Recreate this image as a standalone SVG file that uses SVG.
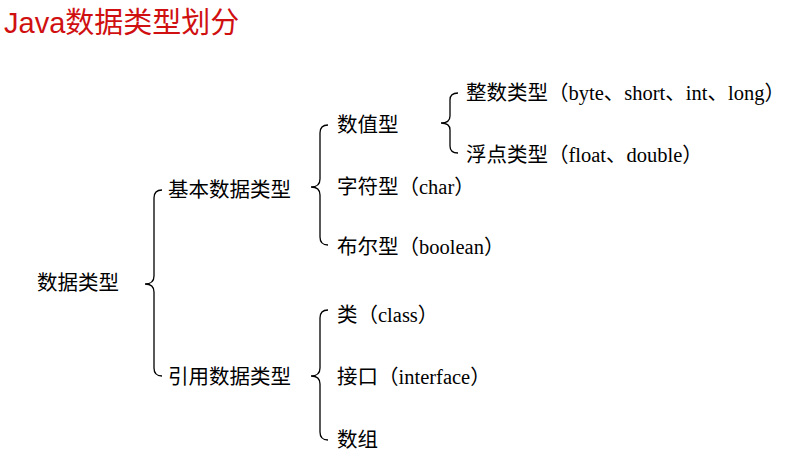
<svg xmlns="http://www.w3.org/2000/svg" width="788" height="457" viewBox="0 0 788 457">
<style>
.t{font-family:"Liberation Serif","Noto Sans CJK SC",serif;font-size:20.5px;fill:#000}
.b{fill:none;stroke:#000;stroke-width:1.3}
</style>
<rect width="788" height="457" fill="#fff"/>
<text x="4" y="33" style="font-family:'Liberation Sans','Noto Sans CJK SC',sans-serif;font-size:29px;fill:#d01010">Java数据类型划分</text>
<g id="connectors">
<path class="b" d="M162,190 Q154,190 154,198 L154,276 Q154,284 145,284 Q154,284 154,292 L154,368 Q154,376 162,376"/>
<path class="b" d="M328,125 Q320,125 320,133 L320,179 Q320,187 311,187 Q320,187 320,195 L320,237 Q320,245 328,245"/>
<path class="b" d="M328,310 Q320,310 320,318 L320,368 Q320,376 311,376 Q320,376 320,384 L320,432 Q320,440 328,440"/>
<path class="b" d="M458,93 Q450,93 450,100 L450,116 Q450,123 441,123 Q450,123 450,130 L450,146 Q450,153 458,153"/>
</g>
<g id="n1"><text class="t" x="37" y="290">数据类型</text></g>
<g id="n2"><text class="t" x="168" y="197">基本数据类型</text></g>
<g id="n3"><text class="t" x="168" y="384">引用数据类型</text></g>
<g id="n4"><text class="t" x="337" y="132">数值型</text></g>
<g id="n5"><text class="t" x="337" y="194">字符型（char）</text></g>
<g id="n6"><text class="t" x="337" y="254">布尔型（boolean）</text></g>
<g id="n7"><text class="t" x="337" y="322">类（class）</text></g>
<g id="n8"><text class="t" x="337" y="384">接口（interface）</text></g>
<g id="n9"><text class="t" x="337" y="447">数组</text></g>
<g id="n10"><text class="t" x="466" y="100">整数类型（byte、short、int、long）</text></g>
<g id="n11"><text class="t" x="466" y="162">浮点类型（float、double）</text></g>
</svg>
